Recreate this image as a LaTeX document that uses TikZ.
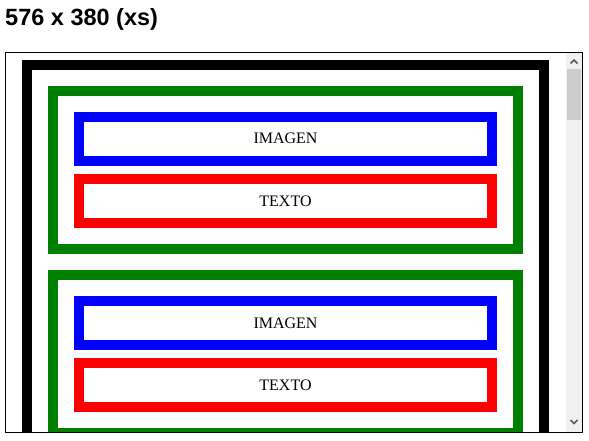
\documentclass[tikz,border=0pt]{standalone}
\usepackage{fontspec}
\setmainfont{Liberation Serif}
\newfontfamily\titlefont{Liberation Sans}
\usetikzlibrary{positioning}

\begin{document}
\begin{tikzpicture}[
    x=1pt, y=-1pt,
    frame/.style={draw=black, line width=1pt},
    outerbox/.style={draw=black, line width=10pt},
    groupbox/.style={draw=green!50!black, line width=10pt},
    imgbox/.style={draw=blue, line width=10pt},
    txtbox/.style={draw=red, line width=10pt},
    lbl/.style={font=\fontsize{16}{19}\selectfont, anchor=base},
]
\useasboundingbox (0,0) rectangle (589,441);

% Title
\node[font=\titlefont\bfseries\fontsize{23.5}{28}\selectfont, anchor=base west, inner sep=0pt] (title) at (5,25.5) {576 x 380 (xs)};

% Viewport contents, clipped to the frame
\begin{scope}
\clip (5.5,52.5) rectangle (566,431.5);
\draw[outerbox] (27,65) rectangle (544,470);
% group 1
\draw[groupbox] (53,91) rectangle (518,249);
\draw[imgbox] (79,117) rectangle (492,161);
\draw[txtbox] (79,179) rectangle (492,223);
% group 2
\draw[groupbox] (53,275) rectangle (518,433);
\draw[imgbox] (79,301) rectangle (492,345);
\draw[txtbox] (79,363) rectangle (492,407);
\end{scope}

% Labels
\node[lbl] (img1) at (285.5,144) {IMAGEN};
\node[lbl] (txt1) at (285.5,206) {TEXTO};
\node[lbl] (img2) at (285.5,328) {IMAGEN};
\node[lbl] (txt2) at (285.5,390) {TEXTO};

% Scrollbar
\fill[gray!12] (566,52.5) rectangle (582,431.5);
\fill[gray!40] (567,69) rectangle (581,120);
\draw[gray!70!black, line width=1.6pt] (570.5,63.5) -- (574,60) -- (577.5,63.5);
\draw[gray!70!black, line width=1.6pt] (570.5,420) -- (574,423.5) -- (577.5,420);

% Frame
\draw[frame] (5.5,52.5) rectangle (582.5,432.5);
\end{tikzpicture}
\end{document}
